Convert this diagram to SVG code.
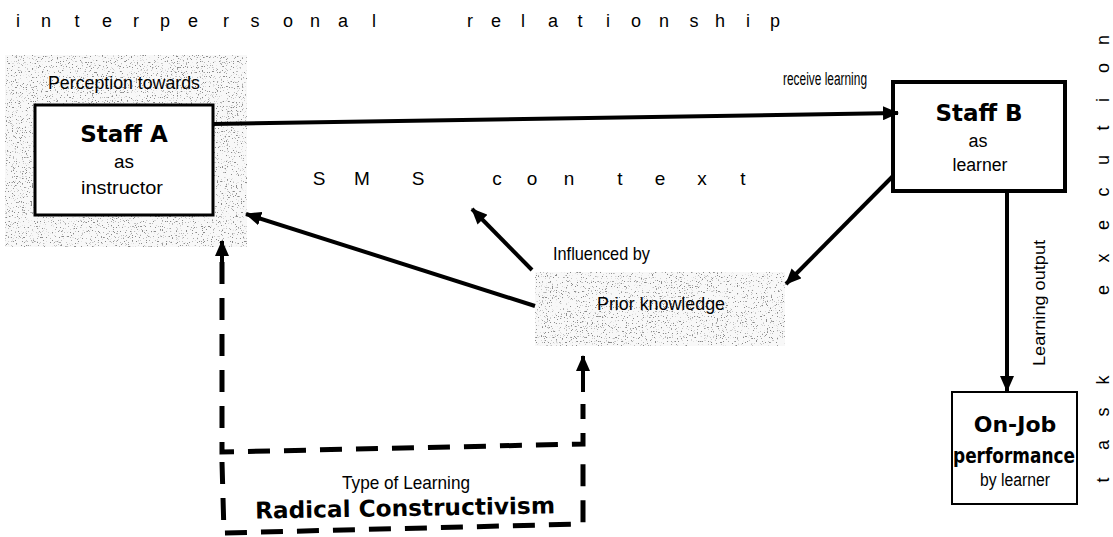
<svg xmlns="http://www.w3.org/2000/svg" width="1113" height="537" viewBox="0 0 1113 537">
  <defs>
    <style>
      .lbl { font-family: "Liberation Sans", Arial, sans-serif; fill: #000; }
      .bold { font-family: "DejaVu Sans", Verdana, sans-serif; font-weight: bold; fill: #000; }
      .box { fill: #fff; stroke: #000; }
      .conn { stroke: #000; stroke-width: 4; fill: none; }
      .dash { stroke: #000; stroke-width: 5; fill: none; stroke-dasharray: 22 14; }
    </style>
    <marker id="arrow" viewBox="0 0 16 14" refX="15" refY="7" markerWidth="16" markerHeight="14" markerUnits="userSpaceOnUse" orient="auto">
      <path d="M0,0 L16,7 L0,14 Z" fill="#000"/>
    </marker>
    <!-- grainy grey stipple used behind the shaded areas -->
    <filter id="speckle" x="0" y="0" width="100%" height="100%">
      <feTurbulence type="fractalNoise" baseFrequency="0.8" numOctaves="3" seed="11" result="noise"/>
      <feColorMatrix in="noise" type="matrix" values="0 0 0 0 0.25  0 0 0 0 0.25  0 0 0 0 0.25  -9 0 0 0 3.35" result="dots"/>
      <feComposite in="dots" in2="SourceAlpha" operator="in"/>
    </filter>
  </defs>

  <rect x="0" y="0" width="1113" height="537" fill="#fff"/>

  <!-- spaced banner labels -->
  <g id="banner-top">
    <text class="lbl" font-size="18" text-anchor="middle" y="27" x="18 46 77 107 136 165 193 226 255 288 315 343 374 420 470 496 523 553 580 608 636 664 694 720 748 775">interpersonal relationship</text>
  </g>
  <g id="banner-right">
    <text class="lbl" font-size="18" text-anchor="middle" transform="translate(1109,0) rotate(-90)" y="0" x="-480 -445 -412 -380 -335 -290 -258 -225 -192 -160 -128 -100 -68 -40">task execution</text>
  </g>
  <g id="context-label">
    <text class="lbl" font-size="19" text-anchor="middle" y="185" x="319 362 418 458 497 532 569 620 660 702 743">SMS context</text>
  </g>

  <!-- Staff A (instructor) -->
  <g id="staffA">
    <rect x="5" y="55" width="242" height="192" fill="#f8f8f8"/>
    <rect x="5" y="55" width="242" height="192" fill="#000" filter="url(#speckle)"/>
    <text class="lbl" font-size="19" x="48" y="89" textLength="152" lengthAdjust="spacingAndGlyphs">Perception towards</text>
    <rect class="box" x="35" y="105" width="178" height="110" stroke-width="3"/>
    <text class="bold" font-size="23" text-anchor="middle" x="124" y="142">Staff A</text>
    <text class="lbl" font-size="19" text-anchor="middle" x="124" y="168" textLength="20" lengthAdjust="spacingAndGlyphs">as</text>
    <text class="lbl" font-size="19" text-anchor="middle" x="122" y="194" textLength="82" lengthAdjust="spacingAndGlyphs">instructor</text>
  </g>

  <!-- Staff B (learner) -->
  <g id="staffB">
    <rect class="box" x="893" y="82" width="172" height="109" stroke-width="4"/>
    <text class="bold" font-size="23" text-anchor="middle" x="979" y="121">Staff B</text>
    <text class="lbl" font-size="18" text-anchor="middle" x="978" y="147" textLength="19" lengthAdjust="spacingAndGlyphs">as</text>
    <text class="lbl" font-size="18" text-anchor="middle" x="980" y="171" textLength="55" lengthAdjust="spacingAndGlyphs">learner</text>
  </g>

  <!-- Prior knowledge -->
  <g id="priorKnowledge">
    <rect x="535" y="272" width="250" height="74" fill="#f8f8f8"/>
    <rect x="535" y="272" width="250" height="74" fill="#000" filter="url(#speckle)"/>
    <text class="lbl" font-size="19" x="597" y="310" textLength="128" lengthAdjust="spacingAndGlyphs">Prior knowledge</text>
  </g>

  <!-- On-Job performance -->
  <g id="onJob">
    <rect class="box" x="952" y="392" width="125" height="112" stroke-width="2"/>
    <text class="bold" font-size="22" text-anchor="middle" x="1015" y="432">On-Job</text>
    <text class="bold" font-size="22" text-anchor="middle" x="1014" y="463" textLength="122" lengthAdjust="spacingAndGlyphs">performance</text>
    <text class="lbl" font-size="18" text-anchor="middle" x="1015" y="486" textLength="70" lengthAdjust="spacingAndGlyphs">by learner</text>
  </g>

  <!-- Type of learning -->
  <g id="learningType">
    <text class="lbl" font-size="19" text-anchor="middle" x="406" y="489" textLength="128" lengthAdjust="spacingAndGlyphs">Type of Learning</text>
    <text class="bold" font-size="23" text-anchor="middle" x="405" y="516" textLength="300" lengthAdjust="spacingAndGlyphs" transform="rotate(-1 405 510)">Radical Constructivism</text>
  </g>

  <!-- connectors -->
  <g id="connectors">
    <line class="conn" x1="213" y1="124" x2="898" y2="113" marker-end="url(#arrow)"/>
    <line class="conn" x1="1007" y1="192" x2="1007" y2="391" stroke-width="5" marker-end="url(#arrow)"/>
    <line class="conn" x1="893" y1="176" x2="786" y2="284" marker-end="url(#arrow)"/>
    <line class="conn" x1="535" y1="306" x2="246" y2="214" marker-end="url(#arrow)"/>
    <line class="conn" x1="532" y1="270" x2="472" y2="209" marker-end="url(#arrow)"/>
    <line class="conn" x1="583" y1="392" x2="583" y2="356" marker-end="url(#arrow)"/>
    <line class="conn" x1="222" y1="262" x2="222" y2="241" marker-end="url(#arrow)"/>
    <!-- dashed learning-type frame with its two risers -->
    <path class="dash" d="M222,262 L222,452 L583,444 L583,404"/>
    <path class="dash" d="M222,462 L224,533 L583,524 L583,452"/>
    <text class="lbl" font-size="18" x="783" y="85" textLength="84" lengthAdjust="spacingAndGlyphs">receive learning</text>
    <text class="lbl" font-size="19" x="553" y="260" textLength="97" lengthAdjust="spacingAndGlyphs">Influenced by</text>
    <text class="lbl" font-size="17" text-anchor="middle" transform="translate(1045,303) rotate(-90)" x="0" y="0" textLength="126" lengthAdjust="spacingAndGlyphs">Learning output</text>
  </g>
</svg>
